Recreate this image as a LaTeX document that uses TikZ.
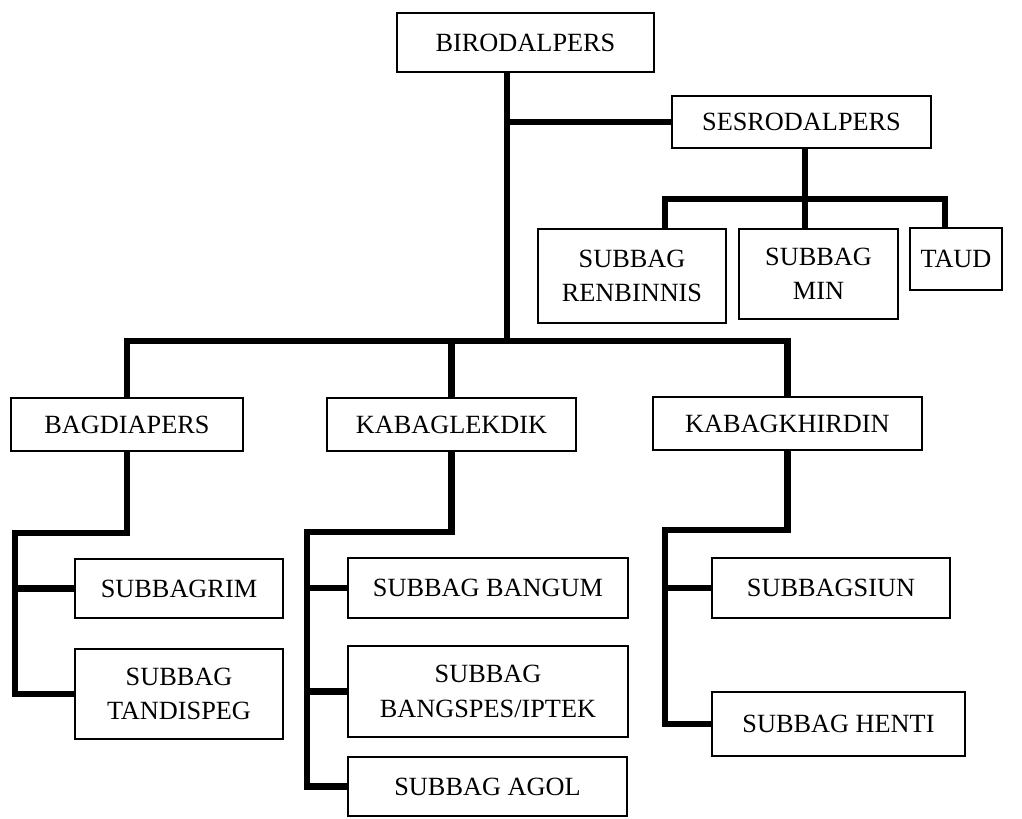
\documentclass[tikz,border=0pt]{standalone}
\usepackage{fontspec}
\setmainfont{Liberation Serif}
\usepackage{tikz}
\usetikzlibrary{positioning}

\begin{document}
\begin{tikzpicture}[
    x=0.025cm, y=-0.025cm,
    unit/.style={rectangle, draw, line width=1.5pt, align=center, inner sep=0pt,
                 font=\fontsize{18.7}{24.5}\selectfont},
    link/.style={line width=4.6pt}
]
\useasboundingbox (0,0) rectangle (1022,818);

\node[unit, minimum width=6.425cm, minimum height=1.475cm] (biro) at (525.5,42.5) {BIRODALPERS};
\node[unit, minimum width=6.475cm, minimum height=1.3cm] (sesro) at (801.5,122) {SESRODALPERS};

\node[unit, minimum width=4.7cm, minimum height=2.35cm] (renb) at (632,276) {SUBBAG\\RENBINNIS};
\node[unit, minimum width=3.975cm, minimum height=2.25cm] (min) at (818.5,274) {SUBBAG\\MIN};
\node[unit, minimum width=2.3cm, minimum height=1.55cm] (taud) at (956,259) {TAUD};

\node[unit, minimum width=5.8cm, minimum height=1.325cm] (bagd) at (127,424.5) {BAGDIAPERS};
\node[unit, minimum width=6.225cm, minimum height=1.325cm] (kabl) at (451.5,424.5) {KABAGLEKDIK};
\node[unit, minimum width=6.725cm, minimum height=1.325cm] (kabk) at (787.5,423.5) {KABAGKHIRDIN};

\node[unit, minimum width=5.2cm, minimum height=1.475cm] (rim) at (179,588.5) {SUBBAGRIM};
\node[unit, minimum width=5.2cm, minimum height=2.25cm] (tand) at (179,694) {SUBBAG\\TANDISPEG};

\node[unit, minimum width=7cm, minimum height=1.5cm] (bang) at (488,588) {SUBBAG BANGUM};
\node[unit, minimum width=7cm, minimum height=2.275cm] (bspes) at (488,691.5) {SUBBAG\\BANGSPES/IPTEK};
\node[unit, minimum width=6.975cm, minimum height=1.475cm] (agol) at (487.5,786.5) {SUBBAG AGOL};

\node[unit, minimum width=5.95cm, minimum height=1.5cm] (siun) at (831,588) {SUBBAGSIUN};
\node[unit, minimum width=6.325cm, minimum height=1.6cm] (henti) at (838.5,724) {SUBBAG HENTI};

% junctions
\coordinate (hub) at (507,341);
\coordinate (sbar) at (805,199);
\coordinate (bspine) at (15,533);
\coordinate (lspine) at (307,532);
\coordinate (kspine) at (665,530);

% top level
\draw[link] (biro.south -| hub) -- (hub);
\draw[link] (hub |- sesro.west) -- (sesro.west);
\draw[link] (bagd.north) -- (bagd.north |- hub) -- (kabk.north |- hub) -- (kabk.north);
\draw[link] (kabl.north |- hub) -- (kabl.north);

% secretariat
\draw[link] (sesro.south -| sbar) -- (min.north -| sbar);
\draw[link] ([xshift=0.825cm]renb.north) -- ([xshift=0.825cm]renb.north |- sbar)
    -- ([xshift=-0.275cm]taud.north |- sbar) -- ([xshift=-0.275cm]taud.north);

% sections
\draw[link] (bagd.south) -- (bagd.south |- bspine) -- (bspine) |- (tand.west);
\draw[link] (bspine |- rim.west) -- (rim.west);

\draw[link] (kabl.south) -- (kabl.south |- lspine) -- (lspine) |- (agol.west);
\draw[link] (lspine |- bang.west) -- (bang.west);
\draw[link] (lspine |- bspes.west) -- (bspes.west);

\draw[link] (kabk.south) -- (kabk.south |- kspine) -- (kspine) |- (henti.west);
\draw[link] (kspine |- siun.west) -- (siun.west);

\end{tikzpicture}
\end{document}
